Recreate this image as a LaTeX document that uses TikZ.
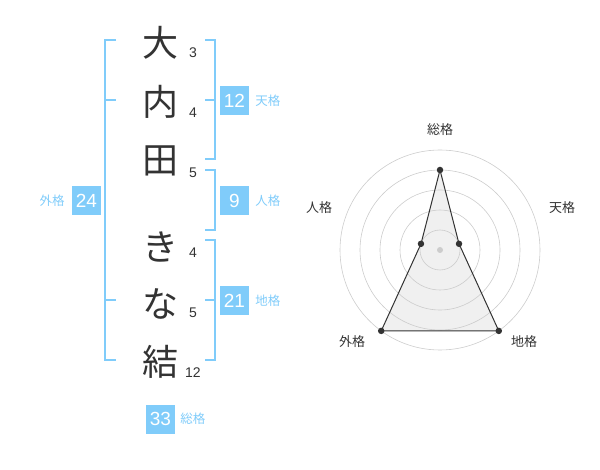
\documentclass[tikz,border=0pt]{standalone}
\usepackage{fontspec}
\setmainfont{Liberation Sans}
\newfontfamily\jpfont{Noto Sans CJK JP}
\usetikzlibrary{positioning}
\definecolor{kakublue}{RGB}{128,204,250}
\definecolor{inkgray}{RGB}{51,51,51}

\begin{document}
\begin{tikzpicture}[x=1pt,y=-1pt]
	\tikzstyle{kanji}=[font=\jpfont\fontsize{36}{36}\selectfont, text=inkgray, inner sep=0pt]
	\tikzstyle{strokes}=[font=\fontsize{14}{14}\selectfont, text=inkgray, inner sep=0pt]
	\tikzstyle{kakubox}=[fill=kakublue, text=white, minimum size=29pt, inner sep=0pt, font=\fontsize{19}{19}\selectfont]
	\tikzstyle{kakulabel}=[text=kakublue, font=\jpfont\fontsize{12.5}{12.5}\selectfont, inner sep=0pt]
	\tikzstyle{bracket}=[draw=kakublue, line width=2pt]
	\tikzstyle{ring}=[draw=black!20, line width=0.6pt]
	\tikzstyle{axislabel}=[text=inkgray, font=\jpfont\fontsize{13}{13}\selectfont, inner sep=0pt]
	\tikzstyle{vertex}=[circle, fill=inkgray, inner sep=0pt, minimum size=6.5pt]

	\useasboundingbox (0,0) rectangle (600,470);

	% name
	\node[kanji] (c1) at (160,43) {大};
	\node[kanji] (c2) at (160,102) {内};
	\node[kanji] (c3) at (160,161) {田};
	\node[kanji] (c4) at (160,247) {き};
	\node[kanji] (c5) at (160,304) {な};
	\node[kanji] (c6) at (160,362) {結};

	\node[strokes] (s1) at (193,53) {3};
	\node[strokes] (s2) at (193,113) {4};
	\node[strokes] (s3) at (193,173) {5};
	\node[strokes] (s4) at (193,253) {4};
	\node[strokes] (s5) at (193,313) {5};
	\node[strokes] (s6) at (193,373) {12};

	% brackets
	\draw[bracket] (116,40) -- (105,40) -- (105,360) -- (116,360);
	\draw[bracket] (105,100) -- (116,100) (105,300) -- (116,300);
	\draw[bracket] (205,40) -- (215,40) -- (215,159) -- (205,159) (205,100) -- (215,100);
	\draw[bracket] (205,170) -- (215,170) -- (215,230) -- (205,230);
	\draw[bracket] (205,240) -- (215,240) -- (215,360) -- (205,360) (205,300) -- (215,300);

	\node[kakubox] (ten) at (234.5,100.5) {12};
	\node[kakulabel, right=6pt of ten] (tenl) {天格};
	\node[kakubox] (jin) at (234.5,200.5) {9};
	\node[kakulabel, right=6pt of jin] (jinl) {人格};
	\node[kakubox] (chi) at (234.5,300.5) {21};
	\node[kakulabel, right=6pt of chi] (chil) {地格};
	\node[kakubox] (gai) at (86.5,200.5) {24};
	\node[kakulabel, left=7pt of gai] (gail) {外格};
	\node[kakubox] (sou) at (160.5,419) {33};
	\node[kakulabel, right=5pt of sou] (soul) {総格};

	% radar
	\begin{scope}[shift={(440,250)}, y=1pt]
		\coordinate (rsou) at (90:80);
		\coordinate (rten) at (18:20);
		\coordinate (rchi) at (-54:100);
		\coordinate (rgai) at (-126:100);
		\coordinate (rjin) at (162:20);
		\fill[black!6] (rsou) -- (rten) -- (rchi) -- (rgai) -- (rjin) -- cycle;
		\foreach \r in {20,40,...,100}
			\draw[ring] (0,0) circle (\r pt);
		\node[circle, fill=black!20, inner sep=0pt, minimum size=6pt] (mid) at (0,0) {};
		\draw[inkgray, line width=1pt] (rsou) -- (rten) -- (rchi) -- (rgai) -- (rjin) -- cycle;
		\foreach \v in {rsou,rten,rchi,rgai,rjin}
			\node[vertex] at (\v) {};
		\node[axislabel] (asou) at (0,120) {総格};
		\node[axislabel] (aten) at (122,42) {天格};
		\node[axislabel] (ajin) at (-121,42) {人格};
		\node[axislabel] (agai) at (-88,-92) {外格};
		\node[axislabel] (achi) at (84,-92) {地格};
	\end{scope}
\end{tikzpicture}
\end{document}
